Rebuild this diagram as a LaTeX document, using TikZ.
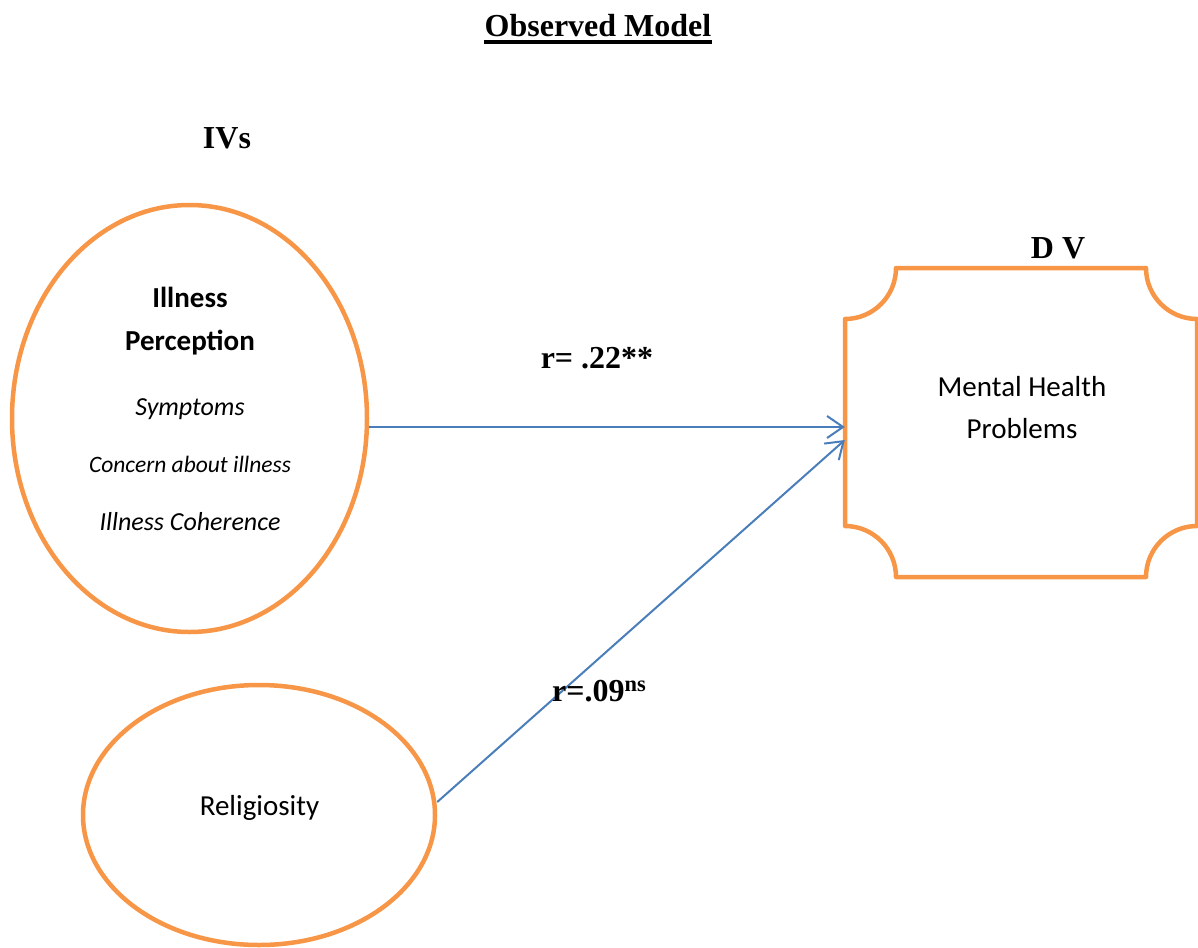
\documentclass[tikz,border=0pt]{standalone}
\usepackage{fontspec}
\setmainfont{Liberation Serif}
\newfontfamily\calfont{Carlito}
\usetikzlibrary{shapes.geometric,arrows.meta}
\definecolor{accorange}{HTML}{F79646}
\definecolor{accblue}{HTML}{4A7EBB}
\tikzset{
  oval/.style={ellipse,draw=accorange,line width=4.5pt,inner sep=0pt},
  link/.style={draw=accblue,line width=2pt,-{Straight Barb[length=16pt,width=22pt,line width=2pt]}},
  bigserif/.style={font=\fontsize{32}{38}\selectfont\bfseries,inner sep=0pt,anchor=base},
  sanstext/.style={font=\calfont\fontsize{29}{34}\selectfont,inner sep=0pt,anchor=base},
  itext/.style={font=\calfont\fontsize{26}{30}\selectfont\itshape,inner sep=0pt,anchor=base},
}
\begin{document}
\begin{tikzpicture}[x=1pt,y=-1pt]
\useasboundingbox (0,0) rectangle (1198,947);
% title
\node[bigserif] (title) at (598,37) {Observed Model};
\draw[line width=3.5pt] ([yshift=-5pt]title.base west) -- ([yshift=-5pt]title.base east);
\node[bigserif] (ivs) at (227,148) {IVs};
\node[bigserif] (dvl) at (1058,258) {D V};
% illness perception ellipse
\node[oval,minimum width=355pt,minimum height=427pt] (ip) at (189.5,418.5) {};
\node[sanstext,font=\calfont\fontsize{29}{34}\selectfont\bfseries] (ip1) at (190,307) {Illness};
\node[sanstext,font=\calfont\fontsize{29}{34}\selectfont\bfseries] (ip2) at (190,350) {Perception};
\node[itext] (ip3) at (190,415) {Symptoms};
\node[itext,font=\calfont\fontsize{23.5}{28}\selectfont\itshape] (ip4) at (190,472) {Concern about illness};
\node[itext] (ip5) at (190,530) {Illness Coherence};
% religiosity ellipse
\node[oval,minimum width=352pt,minimum height=260pt] (rel) at (259,815) {};
\node[sanstext] (relt) at (259.5,815) {Religiosity};
% DV box
\node[minimum width=352pt,minimum height=309pt,inner sep=0pt] (dv) at (1021,422.5) {};
\draw[accorange,line width=4.5pt,line join=round]
  (896,268) -- (1146,268) arc[start angle=180,end angle=270,radius=51pt]
  -- (1197,526) arc[start angle=90,end angle=180,radius=51pt]
  -- (896,577) arc[start angle=0,end angle=90,radius=51pt]
  -- (845,319) arc[start angle=270,end angle=360,radius=51pt] -- cycle;
\node[sanstext] (dv1) at (1022,396) {Mental Health};
\node[sanstext] (dv2) at (1022,438) {Problems};
% connectors
\draw[link] ([yshift=-8.5pt]ip.east) -- ([yshift=-4.5pt]dv.west);
\draw[link] ([yshift=13pt]rel.east) -- ([yshift=-17.5pt]dv.west);
% labels
\node[bigserif] (r1) at (597,368) {r= .22**};
\node[bigserif,anchor=base west] (r2) at (552,701) {r=.09\textsuperscript{ns}};
\end{tikzpicture}
\end{document}
